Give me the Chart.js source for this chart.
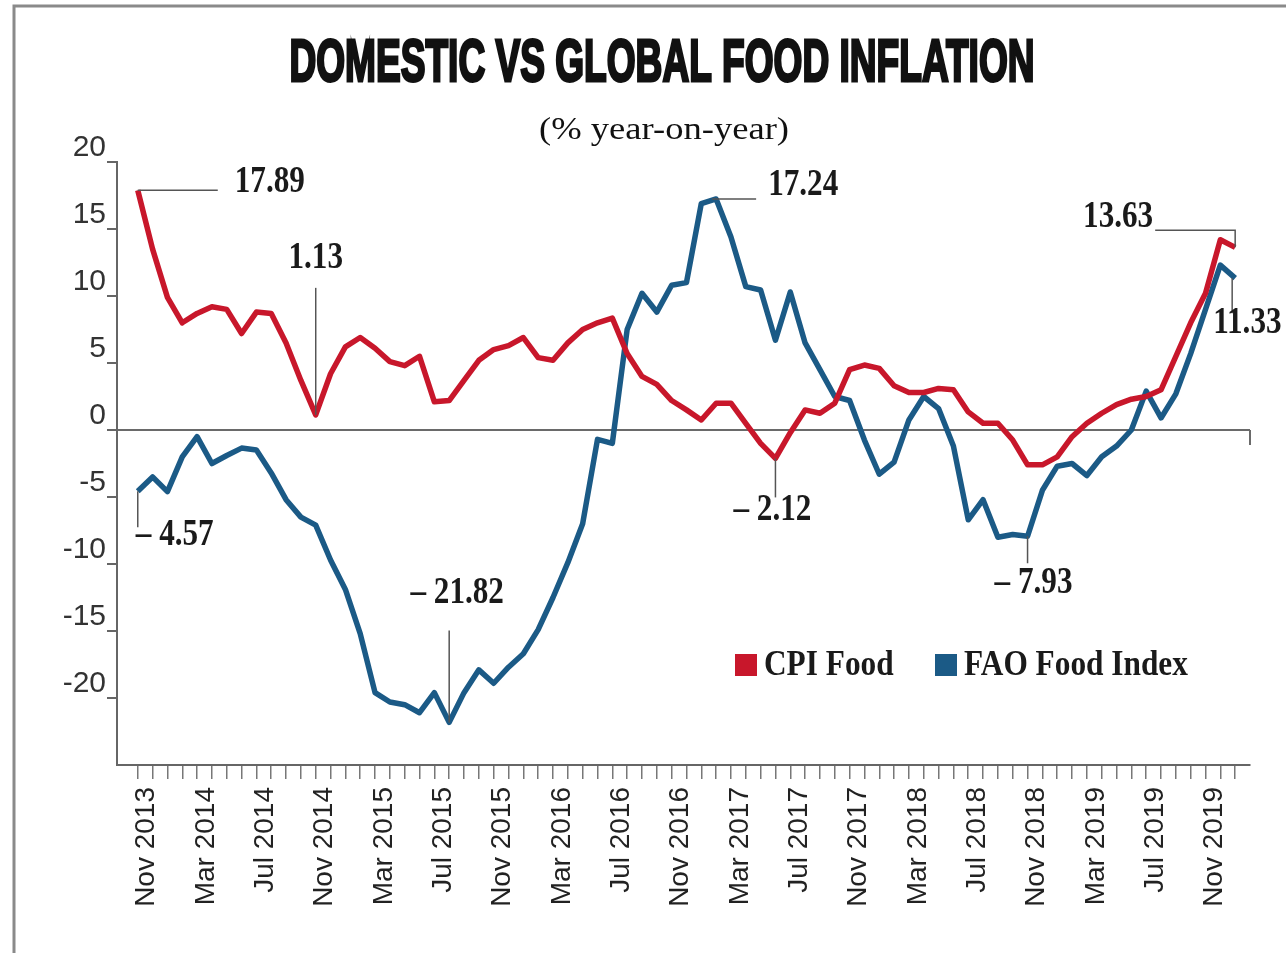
<!DOCTYPE html>
<html>
<head>
<meta charset="utf-8">
<title>Domestic vs global food inflation</title>
<script src="https://cdn.jsdelivr.net/npm/chart.js@4.4.1/dist/chart.umd.min.js"></script>
<style>
  body { margin: 0; background: #ffffff; }
  #wrap { width: 1286px; height: 953px; }
</style>
</head>
<body>
<div id="wrap"><canvas id="food_chart" width="1286" height="953"></canvas></div>
<script>
//
// data, monthly, Nov 2013 .. Jan 2020
//
var months = [
  'Nov 2013', 'Dec 2013',
  'Jan 2014', 'Feb 2014', 'Mar 2014', 'Apr 2014', 'May 2014', 'Jun 2014',
  'Jul 2014', 'Aug 2014', 'Sep 2014', 'Oct 2014', 'Nov 2014', 'Dec 2014',
  'Jan 2015', 'Feb 2015', 'Mar 2015', 'Apr 2015', 'May 2015', 'Jun 2015',
  'Jul 2015', 'Aug 2015', 'Sep 2015', 'Oct 2015', 'Nov 2015', 'Dec 2015',
  'Jan 2016', 'Feb 2016', 'Mar 2016', 'Apr 2016', 'May 2016', 'Jun 2016',
  'Jul 2016', 'Aug 2016', 'Sep 2016', 'Oct 2016', 'Nov 2016', 'Dec 2016',
  'Jan 2017', 'Feb 2017', 'Mar 2017', 'Apr 2017', 'May 2017', 'Jun 2017',
  'Jul 2017', 'Aug 2017', 'Sep 2017', 'Oct 2017', 'Nov 2017', 'Dec 2017',
  'Jan 2018', 'Feb 2018', 'Mar 2018', 'Apr 2018', 'May 2018', 'Jun 2018',
  'Jul 2018', 'Aug 2018', 'Sep 2018', 'Oct 2018', 'Nov 2018', 'Dec 2018',
  'Jan 2019', 'Feb 2019', 'Mar 2019', 'Apr 2019', 'May 2019', 'Jun 2019',
  'Jul 2019', 'Aug 2019', 'Sep 2019', 'Oct 2019', 'Nov 2019', 'Dec 2019',
  'Jan 2020'
];

// only every 4th month gets a label
var tickLabels = [
  'Nov 2013', 'Mar 2014', 'Jul 2014', 'Nov 2014', 'Mar 2015', 'Jul 2015',
  'Nov 2015', 'Mar 2016', 'Jul 2016', 'Nov 2016', 'Mar 2017', 'Jul 2017',
  'Nov 2017', 'Mar 2018', 'Jul 2018', 'Nov 2018', 'Mar 2019', 'Jul 2019',
  'Nov 2019'
];

var yTicks = [-25, -20, -15, -10, -5, 0, 5, 10, 15, 20];

var cpiFood = [
  17.89, 13.5,
  9.9, 8.0, 8.7, 9.2, 9.0, 7.2, 8.8, 8.7, 6.5, 3.7, 1.13, 4.2,
  6.2, 6.9, 6.1, 5.1, 4.8, 5.5, 2.1, 2.2, 3.7, 5.2, 6.0, 6.3,
  6.9, 5.4, 5.2, 6.5, 7.5, 8.0, 8.35, 5.7, 4.0, 3.4, 2.2, 1.5,
  0.75, 2.0, 2.0, 0.5, -1.0, -2.12, -0.2, 1.5, 1.25, 2.0, 4.5, 4.85,
  4.6, 3.3, 2.8, 2.8, 3.1, 3.0, 1.35, 0.5, 0.5, -0.75, -2.6, -2.6,
  -2.0, -0.5, 0.5, 1.25, 1.9, 2.3, 2.5, 3.0, 5.5, 8.0, 10.2, 14.2,
  13.63
];

var faoFood = [
  -4.57, -3.5,
  -4.6, -2.0, -0.5, -2.5, -1.9, -1.35, -1.5, -3.2, -5.2, -6.5, -7.1, -9.7,
  -11.9, -15.2, -19.6, -20.3, -20.5, -21.1, -19.6, -21.82, -19.6, -17.9, -18.9, -17.7,
  -16.7, -14.9, -12.5, -9.9, -7.0, -0.7, -1.0, 7.5, 10.2, 8.8, 10.8, 11.0,
  16.9, 17.24, 14.4, 10.7, 10.45, 6.7, 10.3, 6.5, 4.5, 2.5, 2.2, -0.75,
  -3.3, -2.4, 0.75, 2.5, 1.6, -1.2, -6.7, -5.2, -8.0, -7.8, -7.93, -4.5,
  -2.7, -2.5, -3.4, -2.0, -1.2, 0.0, 2.9, 0.9, 2.7, 5.7, 9.0, 12.3,
  11.33
];

var seriesNames = ['CPI Food', 'FAO Food Index'];
var seriesColors = ['#c8172b', '#1b5a86'];

//
// callouts: which value, leader line and text position relative to the point
//
var callouts = [
  {series: 0, index: 0,  line: [[0, 0], [80, 0]],             text: [97, -8],   align: 'left'},
  {series: 0, index: 12, line: [[0, 0], [0, -127]],           text: [0, -157],  align: 'center'},
  {series: 1, index: 39, line: [[-4, 0], [40, 0]],            text: [52, -14],  align: 'left'},
  {series: 1, index: 0,  line: [[0, 0], [0, 36]],             text: [-2, 44],   align: 'left'},
  {series: 1, index: 21, line: [[0, 0], [0, -92]],            text: [8, -129],  align: 'center'},
  {series: 0, index: 43, line: [[0, 0], [0, 39]],             text: [-3, 52],   align: 'center'},
  {series: 1, index: 60, line: [[0, 0], [0, 27]],             text: [6, 47],    align: 'center'},
  {series: 0, index: 74, line: [[0, 0], [0, -17], [-80, -17]], text: [-82, -30], align: 'right'},
  {series: 1, index: 74, line: [[-3, 0], [-3, 35]],           text: [-22, 45],  align: 'left'}
];

function toPoints(values) {
  var pts = [];
  for (var i = 0; i < values.length; i++) {
    pts.push({x: i, y: values[i]});
  }
  return pts;
}

function formatValue(v) {
  if (v < 0) {
    return '\u2013 ' + Math.abs(v).toFixed(2);
  }
  return v.toFixed(2);
}

// draw text squeezed horizontally, like the condensed newspaper fonts
function drawText(ctx, text, x, y, font, align, scaleX, color) {
  ctx.save();
  ctx.font = font;
  ctx.fillStyle = color || '#111';
  ctx.textBaseline = 'middle';
  ctx.textAlign = 'left';
  var w = ctx.measureText(text).width * scaleX;
  var left = x;
  if (align == 'center') {
    left = x - w / 2;
  } else if (align == 'right') {
    left = x - w;
  }
  ctx.translate(left, y);
  ctx.scale(scaleX, 1);
  ctx.fillText(text, 0, 0);
  ctx.restore();
}

function drawFitted(ctx, text, cx, cy, font, width, bold) {
  ctx.save();
  ctx.font = font;
  var w = ctx.measureText(text).width;
  var s = width / w;
  ctx.translate(cx - width / 2, cy);
  ctx.scale(s, 1);
  ctx.textBaseline = 'middle';
  ctx.textAlign = 'left';
  ctx.fillStyle = '#111';
  ctx.fillText(text, 0, 0);
  if (bold) {
    ctx.strokeStyle = '#111';
    ctx.lineWidth = bold;
    ctx.strokeText(text, 0, 0);
  }
  ctx.restore();
}

//
// plugin for titles, callouts, legend and frame
//
var decoPlugin = {
  id: 'deco',
  beforeDraw: function(chart) {
    var ctx = chart.ctx;
    ctx.save();
    ctx.fillStyle = '#ffffff';
    ctx.fillRect(0, 0, chart.width, chart.height);
    ctx.restore();
  },
  afterDraw: function(chart) {
    var ctx = chart.ctx;
    var xs = chart.scales.x;
    var ys = chart.scales.y;
    var series = [cpiFood, faoFood];

    // frame of the page
    ctx.save();
    ctx.strokeStyle = '#8a8a8a';
    ctx.lineWidth = 3;
    ctx.beginPath();
    ctx.moveTo(14, chart.height);
    ctx.lineTo(14, 6);
    ctx.lineTo(chart.width, 6);
    ctx.stroke();
    ctx.restore();

    // title and subtitle
    drawFitted(ctx, 'DOMESTIC VS GLOBAL FOOD INFLATION', 662, 64,
               'bold 60px "Liberation Sans"', 745, 3);
    drawFitted(ctx, '(% year-on-year)', 664, 131,
               '31px "Liberation Serif"', 250, 0);

    // little tick at the right end of the zero line
    var y0 = ys.getPixelForValue(0);
    ctx.save();
    ctx.strokeStyle = '#6a6a6a';
    ctx.lineWidth = 2;
    ctx.beginPath();
    ctx.moveTo(chart.chartArea.right, y0);
    ctx.lineTo(chart.chartArea.right, y0 + 15);
    ctx.stroke();
    ctx.restore();

    // callouts
    for (var i = 0; i < callouts.length; i++) {
      var c = callouts[i];
      var v = series[c.series][c.index];
      var px = xs.getPixelForValue(c.index);
      var py = ys.getPixelForValue(v);
      ctx.save();
      ctx.strokeStyle = '#555';
      ctx.lineWidth = 1.5;
      ctx.beginPath();
      for (var k = 0; k < c.line.length; k++) {
        var lx = px + c.line[k][0];
        var ly = py + c.line[k][1];
        if (k == 0) {
          ctx.moveTo(lx, ly);
        } else {
          ctx.lineTo(lx, ly);
        }
      }
      ctx.stroke();
      ctx.restore();
      drawText(ctx, formatValue(v), px + c.text[0], py + c.text[1],
               'bold 38px "Liberation Serif"', c.align, 0.82, '#1a1a1a');
    }

    // legend inside the plot
    var legendX = [735, 935];
    for (var j = 0; j < seriesNames.length; j++) {
      ctx.save();
      ctx.fillStyle = seriesColors[j];
      ctx.fillRect(legendX[j], 654, 22, 22);
      ctx.restore();
      drawText(ctx, seriesNames[j], legendX[j] + 29, 666,
               'bold 36px "Liberation Serif"', 'left', 0.87, '#1a1a1a');
    }
  }
};

//
// chart config
//
var food_chart_config = {
  type: 'line',
  data: {
    datasets: [
      {
        label: seriesNames[0],
        data: toPoints(cpiFood),
        borderColor: seriesColors[0],
        borderWidth: 5.5,
        pointRadius: 0,
        tension: 0,
        fill: false,
        borderJoinStyle: 'round'
      },
      {
        label: seriesNames[1],
        data: toPoints(faoFood),
        borderColor: seriesColors[1],
        borderWidth: 5.5,
        pointRadius: 0,
        tension: 0,
        fill: false,
        borderJoinStyle: 'round'
      }
    ]
  },
  options: {
    responsive: false,
    animation: false,
    layout: {padding: {top: 162, right: 36, left: 0, bottom: 0}},
    plugins: {
      legend: {display: false},
      title: {display: false},
      tooltip: {enabled: false}
    },
    scales: {
      x: {
        type: 'linear',
        min: -1.4,
        max: 75,
        afterBuildTicks: function(scale) {
          scale.ticks = months.map(function(m, i) { return {value: i}; });
        },
        afterFit: function(scale) { scale.height = 188; },
        grid: {
          drawOnChartArea: false,
          tickLength: 14,
          tickColor: '#777',
          lineWidth: 1.5
        },
        border: {display: true, color: '#666', width: 2},
        ticks: {
          autoSkip: false,
          minRotation: 90,
          maxRotation: 90,
          padding: 8,
          labelOffset: 9,
          color: '#222',
          font: {family: 'Liberation Sans', size: 28},
          callback: function(value) {
            var name = months[value];
            return tickLabels.indexOf(name) >= 0 ? name : '';
          }
        }
      },
      y: {
        type: 'linear',
        min: -25,
        max: 20,
        afterBuildTicks: function(scale) {
          scale.ticks = yTicks.map(function(v) { return {value: v}; });
        },
        afterFit: function(scale) { scale.width = 117; },
        grid: {
          color: function(c) { return c.tick && c.tick.value === 0 ? '#6a6a6a' : 'rgba(0,0,0,0)'; },
          lineWidth: 2,
          tickColor: function(c) { return c.tick && c.tick.value === -25 ? 'rgba(0,0,0,0)' : '#666'; },
          tickLength: 10
        },
        border: {display: true, color: '#666', width: 2},
        ticks: {
          padding: 1,
          labelOffset: -14,
          color: '#333',
          font: {family: 'Liberation Sans', size: 30},
          callback: function(value) {
            return value == -25 ? '' : String(value);
          }
        }
      }
    }
  },
  plugins: [decoPlugin]
};

var food_chart = new Chart(document.getElementById('food_chart').getContext('2d'), food_chart_config);
</script>
</body>
</html>
